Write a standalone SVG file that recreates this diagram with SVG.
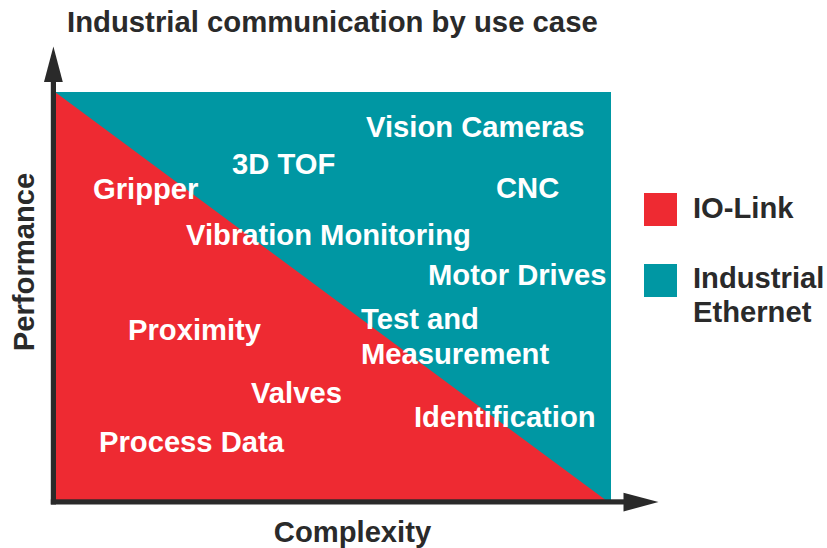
<svg xmlns="http://www.w3.org/2000/svg" width="827" height="548" viewBox="0 0 827 548">
<style>
  text { font-family: "Liberation Sans", Arial, sans-serif; font-weight: bold; font-size: 29.2px; }
  .lbl { fill: #ffffff; }
  .dark { fill: #2a2a2a; }
  .red { fill: #ee2a32; }
  .teal { fill: #0097a3; }
</style>
<rect width="827" height="548" fill="#ffffff"/>
<text id="title" class="dark" x="67" y="32" style="font-size:29.3px">Industrial communication by use case</text>
<g id="chart">
  <rect id="ethernet-area" class="teal" x="55" y="92" width="556" height="409"/>
  <polygon id="iolink-area" class="red" points="55,92 55,501 607,501"/>
</g>
<g id="axes">
  <rect class="dark" x="50.8" y="80" width="5.2" height="424.5"/>
  <polygon class="dark" points="53.4,46.5 44,82 62.8,82"/>
  <rect class="dark" x="50.8" y="499.3" width="575" height="5.2"/>
  <polygon class="dark" points="658.5,502 623.5,492.8 623.5,511.5"/>
</g>
<text id="y-label" class="dark" transform="translate(34,262) rotate(-90)" text-anchor="middle">Performance</text>
<text id="x-label" class="dark" x="352.5" y="542" text-anchor="middle">Complexity</text>
<g id="labels" class="lbl">
  <text id="vision" class="lbl" x="366" y="137">Vision Cameras</text>
  <text id="tof" class="lbl" x="232" y="174">3D TOF</text>
  <text id="gripper" class="lbl" x="93" y="199">Gripper</text>
  <text id="cnc" class="lbl" x="496" y="198">CNC</text>
  <text id="vibration" class="lbl" x="186" y="245">Vibration Monitoring</text>
  <text id="motor" class="lbl" x="428" y="285">Motor Drives</text>
  <text id="test" class="lbl" x="361" y="329">Test and</text>
  <text id="measurement" class="lbl" x="361" y="364">Measurement</text>
  <text id="proximity" class="lbl" x="128" y="340">Proximity</text>
  <text id="valves" class="lbl" x="251" y="403">Valves</text>
  <text id="identification" class="lbl" x="414" y="427">Identification</text>
  <text id="process" class="lbl" x="99" y="452">Process Data</text>
</g>
<g id="legend-iolink">
  <rect class="red" x="644" y="193" width="33" height="33"/>
  <text class="dark" x="693" y="218">IO-Link</text>
</g>
<g id="legend-ethernet">
  <rect class="teal" x="644" y="264" width="33" height="33"/>
  <text class="dark" x="693" y="288">Industrial</text>
  <text class="dark" x="693" y="322">Ethernet</text>
</g>
</svg>
